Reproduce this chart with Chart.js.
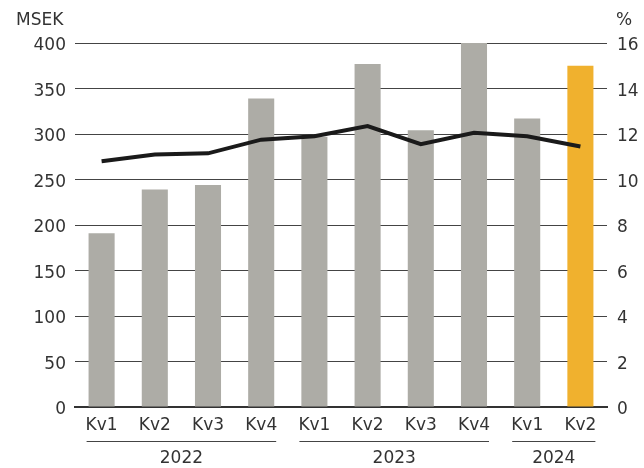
<!DOCTYPE html>
<html>
<head>
<meta charset="utf-8">
<script src="https://cdn.jsdelivr.net/npm/chart.js@4"></script>
<style>
  html, body { margin: 0; padding: 0; background: #fff; }
  #wrap { width: 644px; height: 468px; }
</style>
</head>
<body>
<div id="wrap"><canvas id="myChart" width="644" height="468"></canvas></div>
<script>
const categories = ['Kv1', 'Kv2', 'Kv3', 'Kv4', 'Kv1', 'Kv2', 'Kv3', 'Kv4', 'Kv1', 'Kv2'];
const years = ['2022', '2023', '2024'];
const quartersPerYear = [4, 4, 2];
const sales = [191, 239, 244, 339, 297, 377, 304, 400, 317, 375];
const margin = [10.8, 11.1, 11.15, 11.75, 11.9, 12.35, 11.55, 12.05, 11.9, 11.45];

const grey = '#adaca6';
const orange = '#f0b12e';
const textColor = '#333';
const fontFamily = '"DejaVu Sans", sans-serif';
const fontSize = 17;

const barColors = sales.map((v, i) => i === sales.length - 1 ? orange : grey);

// years under the quarter labels, with a line above each year
const yearGroups = {
    id: 'yearGroups',
    afterDraw(chart) {
        const ctx = chart.ctx;
        const x = chart.scales.x;
        let start = 0;
        ctx.save();
        ctx.font = fontSize + 'px ' + fontFamily;
        ctx.fillStyle = textColor;
        ctx.strokeStyle = '#444';
        ctx.lineWidth = 1;
        ctx.textAlign = 'center';
        ctx.textBaseline = 'middle';
        years.forEach((year, i) => {
            const end = start + quartersPerYear[i] - 1;
            const x1 = x.getPixelForValue(start) - 15;
            const x2 = x.getPixelForValue(end) + 15;
            ctx.beginPath();
            ctx.moveTo(x1, 441.5);
            ctx.lineTo(x2, 441.5);
            ctx.stroke();
            ctx.fillText(year, (x1 + x2) / 2, 459);
            start = end + 1;
        });
        // unit labels
        ctx.textAlign = 'left';
        ctx.fillText('MSEK', 16, 21);
        ctx.fillText('%', 616, 21);
        ctx.restore();
    }
};

const ctx = document.getElementById('myChart').getContext('2d');

const chart = new Chart(ctx, {
    type: 'bar',
    data: {
        labels: categories,
        datasets: [{
            type: 'line',
            label: '%',
            data: margin,
            yAxisID: 'y1',
            borderColor: '#1a1a1a',
            borderWidth: 4,
            pointRadius: 0,
            tension: 0,
            order: 0
        }, {
            label: 'MSEK',
            data: sales,
            yAxisID: 'y',
            backgroundColor: barColors,
            barPercentage: 0.49,
            categoryPercentage: 1,
            order: 1
        }]
    },
    options: {
        responsive: false,
        animation: false,
        layout: { padding: { top: 43, right: 0, bottom: 0, left: 0 } },
        scales: {
            x: {
                afterFit(scale) { scale.height = 61; },
                grid: { display: false, drawTicks: false },
                border: { display: true, color: '#333', width: 2 },
                ticks: {
                    color: textColor,
                    padding: 8,
                    font: { size: fontSize, family: fontFamily }
                }
            },
            y: {
                position: 'left',
                min: 0,
                max: 400,
                afterFit(scale) { scale.width = 75; },
                grid: { color: '#444', lineWidth: 1, drawTicks: false },
                border: { display: false },
                ticks: {
                    stepSize: 50,
                    color: textColor,
                    padding: 9,
                    labelOffset: 3,
                    font: { size: fontSize, family: fontFamily }
                }
            },
            y1: {
                position: 'right',
                min: 0,
                max: 16,
                afterFit(scale) { scale.width = 37; },
                grid: { display: false, drawTicks: false },
                border: { display: false },
                ticks: {
                    stepSize: 2,
                    color: textColor,
                    padding: 10,
                    labelOffset: 3,
                    font: { size: fontSize, family: fontFamily }
                }
            }
        },
        plugins: {
            legend: { display: false },
            tooltip: { enabled: false }
        }
    },
    plugins: [yearGroups]
});
</script>
</body>
</html>
